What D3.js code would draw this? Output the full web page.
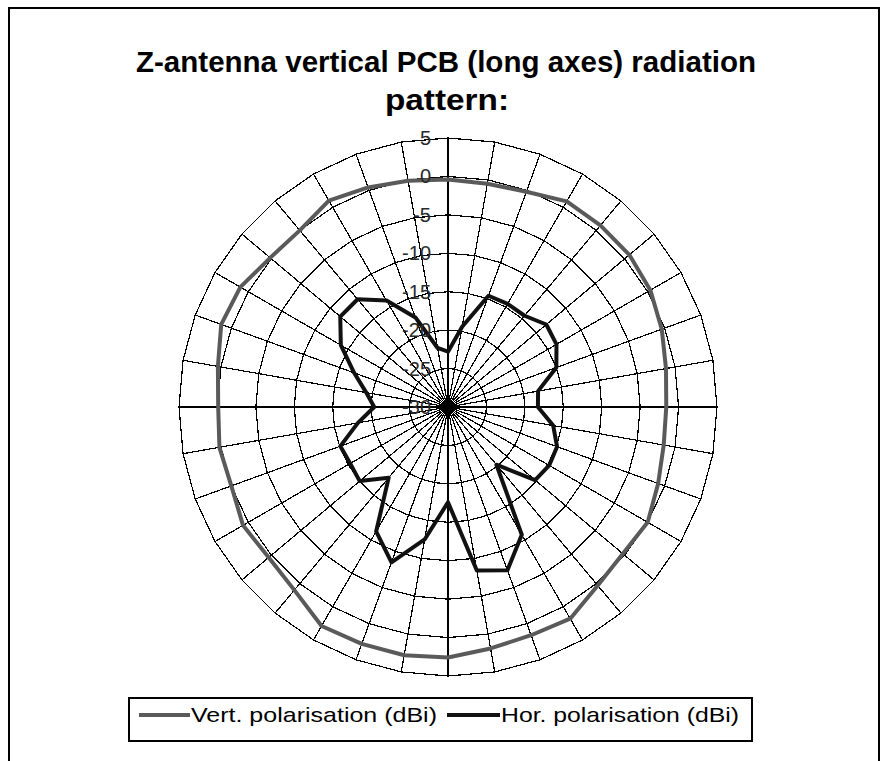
<!DOCTYPE html>
<html>
<head>
<meta charset="utf-8">
<title>Z-antenna radiation pattern</title>
<script src="https://cdn.jsdelivr.net/npm/d3@7"></script>
<style>
  body { margin: 0; background: #fff; }
  text { font-family: "Liberation Sans", Arial, sans-serif; }
</style>
</head>
<body>
<div id="chart"></div>
<script>
// directions every 10 degrees, clockwise from top
const angles = d3.range(0, 360, 10);
// dBi, one value per direction
const vertPol = [-0.4, -0.5, -0.2, 0.9, 0.85, 0.8, 0.4, -0.4, -1.2, -1.6,
                 -1.5, -0.9, 0.0, -0.3, 0.3, 1.8, 1.6, 1.9, 2.6, 2.8,
                 2.8, 2.9, 1.1, 0.45, 0.8, 0.0, 0.2, -0.1, 0.4, 1.4,
                 1.2, 0.2, 0.0, 1.0, 0.4, -0.1];
const horPol = [-22.8, -19.4, -14.6, -14.5, -14.5, -13.3, -13.7, -15.0, -18.1, -18.3,
                -16.1, -14.9, -14.8, -15.2, -20.2, -10.8, -7.4, -8.4, -17.6, -12.5,
                -8.5, -11.3, -18.0, -15.0, -15.3, -15.1, -18.1, -20.4, -19.2, -17.0,
                -13.9, -11.7, -11.7, -14.0, -17.6, -22.2];
const ticks = [-25, -20, -15, -10, -5, 0, 5];
const tickLabels = [-30, -25, -20, -15, -10, -5, 0, 5];
const seriesNames = ["Vert. polarisation (dBi)", "Hor. polarisation (dBi)"];
const seriesColors = ["#5a5a5a", "#111111"];

const W = 886, H = 761;
const cx = 448, cy = 407, R = 269;

const svg = d3.select("#chart").append("svg")
  .attr("width", W).attr("height", H);

// chart frame
svg.append("rect")
  .attr("x", 9).attr("y", 8).attr("width", 870).attr("height", 800)
  .attr("fill", "none").attr("stroke", "#000").attr("stroke-width", 2);

// title
svg.append("text")
  .attr("x", 446).attr("y", 72)
  .attr("text-anchor", "middle")
  .attr("font-size", 29).attr("font-weight", "bold")
  .attr("textLength", 620).attr("lengthAdjust", "spacingAndGlyphs")
  .text("Z-antenna vertical PCB (long axes) radiation");
svg.append("text")
  .attr("x", 447).attr("y", 110)
  .attr("text-anchor", "middle")
  .attr("font-size", 29).attr("font-weight", "bold")
  .attr("textLength", 124).attr("lengthAdjust", "spacingAndGlyphs")
  .text("pattern:");

const r = d3.scaleLinear().domain([-30, 5]).range([0, R]);
const rad = a => a * Math.PI / 180;

const g = svg.append("g").attr("transform", `translate(${cx},${cy})`);

// spokes
g.append("g").selectAll("line")
  .data(angles)
  .join("line")
  .attr("x1", 0).attr("y1", 0)
  .attr("x2", d => r(5) * Math.sin(rad(d)))
  .attr("y2", d => -r(5) * Math.cos(rad(d)))
  .attr("stroke", "#000").attr("stroke-width", 1.2)
  .attr("shape-rendering", "crispEdges");

// ring polygons
const ring = d3.lineRadial()
  .angle(d => rad(d[0]))
  .radius(d => r(d[1]))
  .curve(d3.curveLinearClosed);

g.append("g").selectAll("path")
  .data(ticks)
  .join("path")
  .attr("d", t => ring(angles.map(a => [a, t])))
  .attr("fill", "none").attr("stroke", "#000").attr("stroke-width", 1.2)
  .attr("shape-rendering", "crispEdges");

// series
const series = [vertPol, horPol];
g.append("g").selectAll("path")
  .data(series)
  .join("path")
  .attr("d", vals => ring(angles.map((a, i) => [a, vals[i]])))
  .attr("fill", "none")
  .attr("stroke", (d, i) => seriesColors[i])
  .attr("stroke-width", 4)
  .attr("stroke-linejoin", "round");

// value axis labels
svg.append("g").selectAll("text")
  .data(tickLabels)
  .join("text")
  .attr("x", 431)
  .attr("y", d => cy - r(d))
  .attr("dy", "0.35em")
  .attr("text-anchor", "end")
  .attr("font-size", 20)
  .attr("fill", "#2a2a2a")
  .text(d => d);

// legend
const leg = svg.append("g");
leg.append("rect")
  .attr("x", 129).attr("y", 698).attr("width", 623).attr("height", 43)
  .attr("fill", "#fff").attr("stroke", "#000").attr("stroke-width", 2);
const legItems = [
  { x1: 139, x2: 190, tx: 191, tl: 246 },
  { x1: 447, x2: 500, tx: 501, tl: 238 }
];
legItems.forEach((it, i) => {
  leg.append("line")
    .attr("x1", it.x1).attr("x2", it.x2).attr("y1", 715).attr("y2", 715)
    .attr("stroke", seriesColors[i]).attr("stroke-width", 4);
  leg.append("text")
    .attr("x", it.tx).attr("y", 722)
    .attr("font-size", 21)
    .attr("textLength", it.tl).attr("lengthAdjust", "spacingAndGlyphs")
    .text(seriesNames[i]);
});
</script>
</body>
</html>
